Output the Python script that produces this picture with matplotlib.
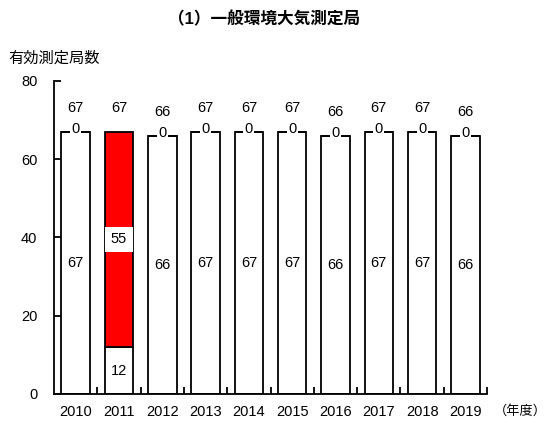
import numpy as np
import matplotlib
matplotlib.use("Agg")
import matplotlib.pyplot as plt
from matplotlib.ticker import FixedLocator

plt.rcParams['font.family'] = ['Liberation Sans', 'Noto Sans CJK JP', 'DejaVu Sans']

# data
years = ['2010', '2011', '2012', '2013', '2014', '2015', '2016', '2017', '2018', '2019']
achieved = [67, 12, 66, 67, 67, 67, 66, 67, 67, 66]
not_achieved = [0, 55, 0, 0, 0, 0, 0, 0, 0, 0]
totals = [a + n for a, n in zip(achieved, not_achieved)]

fig = plt.figure(figsize=(5.51, 4.23), dpi=100)
ax = fig.add_axes([0.098, 0.0686, 0.786, 0.74])

x = np.arange(len(years))
w = 0.66
ax.bar(x, achieved, w, color='white', edgecolor='black', linewidth=1.3, zorder=2)
ax.bar(x, not_achieved, w, bottom=achieved, color='#FF0000', edgecolor='black', linewidth=1.3, zorder=2)

for i in range(len(years)):
    # achieved value, centre of white part
    ax.text(x[i], achieved[i] / 2, str(achieved[i]), ha='center', va='center', fontsize=10.5, zorder=4)
    # not achieved value
    if not_achieved[i] > 0:
        ax.text(x[i], achieved[i] + not_achieved[i] / 2, str(not_achieved[i]), ha='center', va='center',
                fontsize=10.5, zorder=4,
                bbox=dict(facecolor='white', edgecolor='none', boxstyle='square,pad=0.4'))
    else:
        ax.text(x[i], achieved[i] + 0.8, '0', ha='center', va='center', fontsize=10.5, zorder=4,
                bbox=dict(facecolor='white', edgecolor='none', boxstyle='square,pad=0.1'))
    # total
    ax.text(x[i], totals[i] + 4.3, str(totals[i]), ha='center', va='bottom', fontsize=10.5, zorder=4)

ax.set_xlim(-0.5, 9.5)
ax.set_ylim(0, 80)
ax.set_yticks([0, 20, 40, 60, 80])
ax.set_xticks(x)
ax.set_xticklabels(years)
ax.xaxis.set_minor_locator(FixedLocator(np.arange(0.5, 9.6, 1)))
ax.tick_params(axis='x', which='major', length=0, pad=8, labelsize=10.5)
ax.tick_params(axis='x', which='minor', direction='in', length=5, width=1.3)
ax.tick_params(axis='y', direction='in', length=5, width=1.3, pad=12, labelsize=10.5)
for s in ['top', 'right']:
    ax.spines[s].set_visible(False)
for s in ['left', 'bottom']:
    ax.spines[s].set_linewidth(1.3)

fig.text(0.48, 0.955, '（1）一般環境大気測定局', ha='center', va='center', fontsize=12, fontweight='bold')
fig.text(0.015, 0.862, '有効測定局数', ha='left', va='center', fontsize=11)
fig.text(0.945, 0.028, '（年度）', ha='center', va='center', fontsize=9.5)

plt.savefig("out.png", dpi=100)
